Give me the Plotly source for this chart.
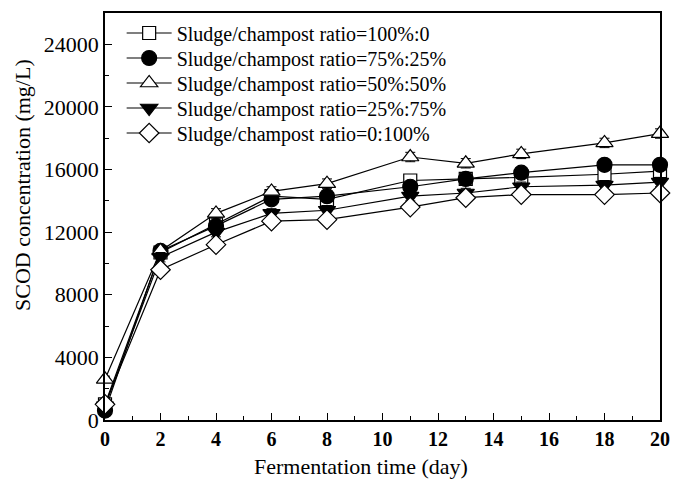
import plotly.graph_objects as go

days = [0, 2, 4, 6, 8, 11, 13, 15, 18, 20]

names = [
    "Sludge/champost ratio=100%:0",
    "Sludge/champost ratio=75%:25%",
    "Sludge/champost ratio=50%:50%",
    "Sludge/champost ratio=25%:75%",
    "Sludge/champost ratio=0:100%",
]

s100_0 = [1000, 10700, 12500, 14300, 14100, 15300, 15400, 15500, 15700, 15900]
s75_25 = [600, 10800, 12400, 14100, 14300, 14900, 15400, 15800, 16300, 16300]
s50_50 = [2600, 10800, 13200, 14600, 15100, 16800, 16400, 17000, 17700, 18300]
s25_75 = [900, 10400, 12000, 13200, 13400, 14300, 14500, 14900, 15000, 15200]
s0_100 = [1000, 9600, 11200, 12700, 12800, 13600, 14200, 14400, 14400, 14500]

err100_0 = [200, 300, 300, 300, 300, 300, 300, 300, 300, 300]
err75_25 = [200, 300, 300, 300, 300, 300, 300, 300, 300, 300]
err50_50 = [200, 300, 300, 300, 300, 300, 300, 300, 300, 300]
err25_75 = [200, 300, 300, 300, 300, 300, 300, 300, 300, 300]
err0_100 = [200, 300, 300, 300, 300, 300, 300, 300, 300, 300]

y_ticks = [0, 4000, 8000, 12000, 16000, 20000, 24000]
y_tick_labels = ["0", "4000", "8000", "12000", "16000", "20000", "24000"]
x_ticks = [0, 2, 4, 6, 8, 10, 12, 14, 16, 18, 20]
x_tick_labels = ["0", "2", "4", "6", "8", "10", "12", "14", "16", "18", "20"]

x_title = "Fermentation time (day)"
y_title = "SCOD concentration (mg/L)"

series = [s100_0, s75_25, s50_50, s25_75, s0_100]
errors = [err100_0, err75_25, err50_50, err25_75, err0_100]
symbols = ["square", "circle", "triangle-up", "triangle-down", "diamond"]
fills = ["white", "black", "white", "black", "white"]
sizes = [13, 15, 15, 15, 15]
legend_ids = ["legend", "legend2", "legend3", "legend4", "legend5"]

fig = go.Figure()
for name, ys, err, sym, fc, sz, lg in zip(names, series, errors, symbols, fills, sizes, legend_ids):
    fig.add_trace(go.Scatter(
        x=days, y=ys, name=name, mode="lines+markers",
        legend=lg,
        line=dict(color="black", width=1.2),
        marker=dict(symbol=sym, size=sz, color=fc,
                    line=dict(color="black", width=1.2)),
        error_y=dict(type="data", array=err, visible=True,
                     color="black", thickness=1, width=5),
        cliponaxis=False,
    ))

font_family = "Liberation Serif, Times New Roman, serif"

W, H = 673, 480
ML, MR, MT, MB = 105, 13, 13, 60
plot_w = W - ML - MR
plot_h = H - MT - MB

legend_step = 25 / plot_h
legend_top = 1 - 20 / plot_h

legend_layouts = {}
for i, lg in enumerate(legend_ids):
    legend_layouts[lg] = dict(
        x=0.03, y=legend_top - i * legend_step, xanchor="left", yanchor="middle",
        bgcolor="rgba(0,0,0,0)", borderwidth=0,
        font=dict(family=font_family, size=20, color="black"),
        itemwidth=45,
    )

fig.update_layout(
    width=W, height=H, autosize=False,
    margin=dict(l=ML, r=MR, t=MT, b=MB, autoexpand=False),
    paper_bgcolor="white", plot_bgcolor="white",
    font=dict(family=font_family, color="black", size=20),
    showlegend=True,
    **legend_layouts,
    xaxis=dict(
        range=[0, 20], tickvals=x_ticks, ticktext=x_tick_labels,
        ticks="inside", ticklen=7, tickwidth=1.2, tickcolor="black",
        minor=dict(dtick=1, ticks="inside", ticklen=4, tickcolor="black", tickwidth=1.2),
        showline=True, linecolor="black", linewidth=1.5, mirror=True,
        showgrid=False, zeroline=False, ticklabeloverflow="allow",
        tickfont=dict(family=font_family, size=20, color="black", weight="bold"),
    ),
    yaxis=dict(
        range=[0, 26000], tickvals=y_ticks, ticktext=y_tick_labels,
        ticks="inside", ticklen=7, tickwidth=1.2, tickcolor="black",
        minor=dict(dtick=2000, ticks="inside", ticklen=4, tickcolor="black", tickwidth=1.2),
        showline=True, linecolor="black", linewidth=1.5, mirror=True,
        showgrid=False, zeroline=False,
        tickfont=dict(family=font_family, size=22, color="black"),
    ),
    annotations=[
        dict(text=x_title, xref="paper", yref="paper",
             x=(361 - ML) / plot_w, y=-(466 - (MT + plot_h)) / plot_h,
             xanchor="center", yanchor="middle", showarrow=False,
             font=dict(family=font_family, size=22, color="black")),
        dict(text=y_title, xref="paper", yref="paper", textangle=-90,
             x=(22 - ML) / plot_w, y=((MT + plot_h) - 185) / plot_h,
             xanchor="center", yanchor="middle", showarrow=False,
             font=dict(family=font_family, size=22, color="black")),
    ],
)

fig.write_html(
    "out.html",
    config={"displayModeBar": False, "responsive": False},
    post_script="document.body.style.margin='0';",
)
